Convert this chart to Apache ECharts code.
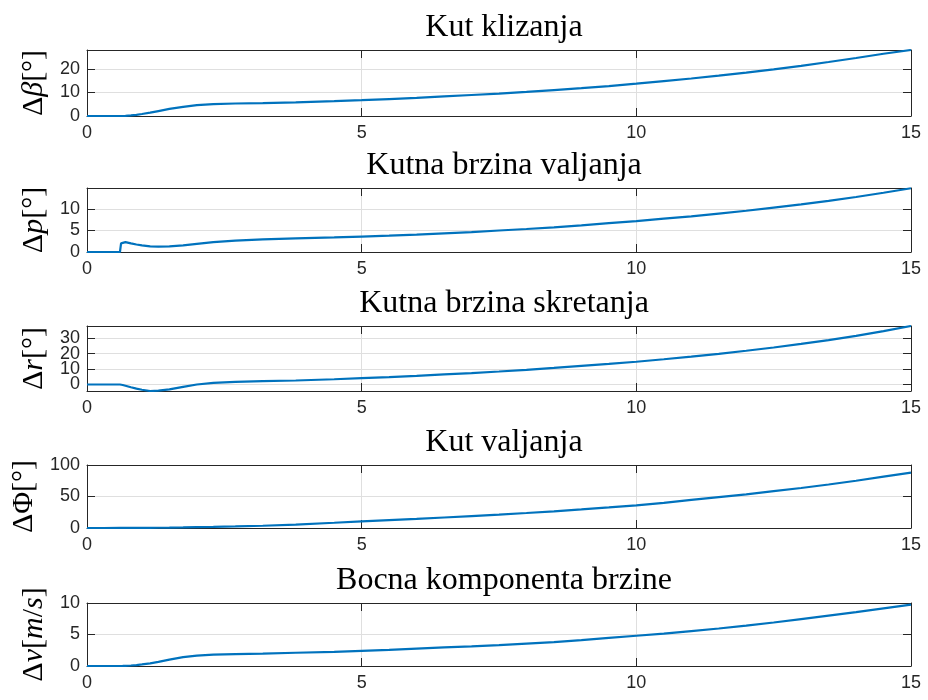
<!DOCTYPE html>
<html><head><meta charset="utf-8">
<script src="https://cdn.jsdelivr.net/npm/echarts@6/dist/echarts.min.js"></script>
<style>html,body{margin:0;padding:0;background:#fff}#c{width:928px;height:700px}</style>
</head><body><div id="c"></div>
<script>
const t = [0, 0.3, 0.6, 0.62, 0.65, 0.7, 0.8, 0.9, 1.0, 1.15, 1.3, 1.5, 1.75, 2.0, 2.3, 2.7, 3.2, 3.8, 4.5, 5,
           5.5, 6, 6.5, 7, 7.5, 8, 8.5, 9, 9.5, 10, 10.5, 11, 11.5, 12, 12.5, 13, 13.5, 14, 14.5, 15];
const beta = [0, 0, 0, 0, 0, 0.08, 0.25, 0.5, 0.85, 1.4, 2.1, 3.0, 3.9, 4.6, 5.0, 5.3, 5.5, 5.8, 6.3, 6.7,
              7.2, 7.7, 8.3, 8.9, 9.5, 10.2, 11.0, 11.8, 12.7, 13.7, 14.8, 15.9, 17.1, 18.4, 19.8, 21.3, 22.9, 24.6, 26.4, 28.0];
const pRate = [0, 0, 0, 2.0, 2.4, 2.3, 2.0, 1.75, 1.55, 1.3, 1.25, 1.3, 1.55, 1.9, 2.3, 2.65, 2.95, 3.15, 3.4, 3.6,
               3.8, 4.05, 4.35, 4.65, 5.0, 5.35, 5.75, 6.2, 6.7, 7.2, 7.75, 8.3, 8.95, 9.6, 10.35, 11.1, 11.9, 12.8, 13.8, 14.85];
const rRate = [0, 0, 0, 0, -0.3, -0.8, -1.8, -2.7, -3.4, -4.2, -4.0, -3.2, -1.5, 0.0, 1.0, 1.7, 2.2, 2.6, 3.4, 4.1,
               4.8, 5.6, 6.5, 7.4, 8.4, 9.5, 10.7, 12.0, 13.3, 14.7, 16.3, 18.0, 19.8, 21.8, 23.9, 26.2, 28.7, 31.4, 34.5, 37.8];
const phi = [0, 0, 0.05, 0.05, 0.06, 0.07, 0.1, 0.14, 0.2, 0.3, 0.4, 0.6, 0.9, 1.3, 1.7, 2.5, 3.6, 5.5, 8.3, 10.5,
             12.5, 14.5, 16.7, 19.0, 21.3, 23.8, 26.5, 29.5, 32.7, 36.0, 40.0, 44.5, 49.0, 53.5, 58.5, 63.5, 69.0, 75.0, 81.5, 88.0];
const vLat = [0, 0, 0, 0, 0.01, 0.03, 0.08, 0.15, 0.25, 0.43, 0.65, 1.0, 1.4, 1.65, 1.8, 1.87, 1.95, 2.1, 2.25, 2.4,
              2.55, 2.75, 2.95, 3.1, 3.3, 3.55, 3.8, 4.1, 4.45, 4.8, 5.15, 5.55, 5.95, 6.4, 6.9, 7.45, 8.0, 8.55, 9.15, 9.75];

const titles = ['Kut klizanja', 'Kutna brzina valjanja', 'Kutna brzina skretanja', 'Kut valjanja', 'Bocna komponenta brzine'];
const yNames = [
  '{d|Δ}{i|β}{d|[°]}',
  '{d|Δ}{i|p}{d|[°]}',
  '{d|Δ}{i|r}{d|[°]}',
  '{d|ΔΦ[°]}',
  '{d|Δ}{i|v}{d|[}{i|m}{d|/}{i|s}{d|]}'
];
const yMin = [0, 0, -4.2, 0, 0];
const yMax = [28, 14.9, 37.8, 100, 10];
const yTicks = [[0, 10, 20], [0, 5, 10], [0, 10, 20, 30], [0, 50, 100], [0, 5, 10]];
const xTicks = [0, 5, 10, 15];
const seriesData = [beta, pRate, rRate, phi, vLat];

const tops = [50, 188, 326, 465, 603];
const heights = [66, 64, 65, 63, 63];
const frame = '#262626';
const gridColor = '#dfdfdf';

const labelStyle = { fontFamily: 'Liberation Sans', fontSize: 18, color: frame };
const grids = [], xAxes = [], yAxes = [], extraY = [], series = [], titleOpt = [];
for (let i = 0; i < 5; i++) {
  grids.push({ left: 87, right: 17, top: tops[i], height: heights[i] });
  titleOpt.push({ text: titles[i], left: 499, top: tops[i] - 43, textAlign: 'center',
    textStyle: { fontFamily: 'Liberation Serif', fontSize: 32, fontWeight: 'normal', color: '#000' } });
  const xBase = { type: 'value', gridIndex: i, min: 0, max: 15,
    axisLine: { onZero: false, lineStyle: { color: frame, width: 1 } },
    axisTick: { inside: true, length: 8, customValues: xTicks, lineStyle: { color: frame } } };
  xAxes.push(Object.assign({}, xBase, { position: 'bottom',
    axisLabel: Object.assign({ customValues: xTicks, showMinLabel: true, showMaxLabel: true, margin: 8 }, labelStyle),
    splitLine: { show: true, lineStyle: { color: gridColor, width: 1 } } }));
  xAxes.push(Object.assign({}, xBase, { position: 'top', axisLabel: { show: false }, splitLine: { show: false } }));
  const yBase = { type: 'value', gridIndex: i, min: yMin[i], max: yMax[i],
    axisLine: { onZero: false, lineStyle: { color: frame, width: 1 } },
    axisTick: { inside: true, length: 8, customValues: yTicks[i], lineStyle: { color: frame } } };
  // labels split into alternating sets so that tightly spaced ticks all keep their labels
  const even = yTicks[i].filter((v, k) => k % 2 === 0);
  const odd = yTicks[i].filter((v, k) => k % 2 === 1);
  yAxes.push(Object.assign({}, yBase, { position: 'left',
    name: yNames[i],
    nameLocation: 'middle', nameRotate: 90, nameGap: 31,
    nameTextStyle: { rich: {
      d: { fontFamily: 'Liberation Serif', fontSize: 30, color: '#000' },
      i: { fontFamily: 'Liberation Serif', fontStyle: 'italic', fontSize: 30, color: '#000' } } },
    axisLabel: Object.assign({ customValues: even, showMinLabel: true, showMaxLabel: true, margin: 7 }, labelStyle),
    splitLine: { show: true, lineStyle: { color: gridColor, width: 1 } } }));
  yAxes.push(Object.assign({}, yBase, { position: 'right', axisLabel: { show: false }, splitLine: { show: false } }));
  extraY.push({ type: 'value', gridIndex: i, min: yMin[i], max: yMax[i], position: 'left', offset: 0,
    axisLine: { show: false, onZero: false }, axisTick: { show: false }, splitLine: { show: false },
    axisLabel: Object.assign({ customValues: odd, showMinLabel: true, showMaxLabel: true, margin: 7 }, labelStyle) });
  series.push({ type: 'line', xAxisIndex: 2 * i, yAxisIndex: 2 * i, showSymbol: false, animation: false,
    data: t.map((x, k) => [x, seriesData[i][k]]),
    lineStyle: { color: '#0072BD', width: 2.2 }, itemStyle: { color: '#0072BD' } });
}

const chart = echarts.init(document.getElementById('c'), null, { renderer: 'canvas' });
chart.setOption({ animation: false, backgroundColor: '#fff', title: titleOpt, grid: grids,
  xAxis: xAxes, yAxis: yAxes.concat(extraY), series: series });
</script></body></html>
